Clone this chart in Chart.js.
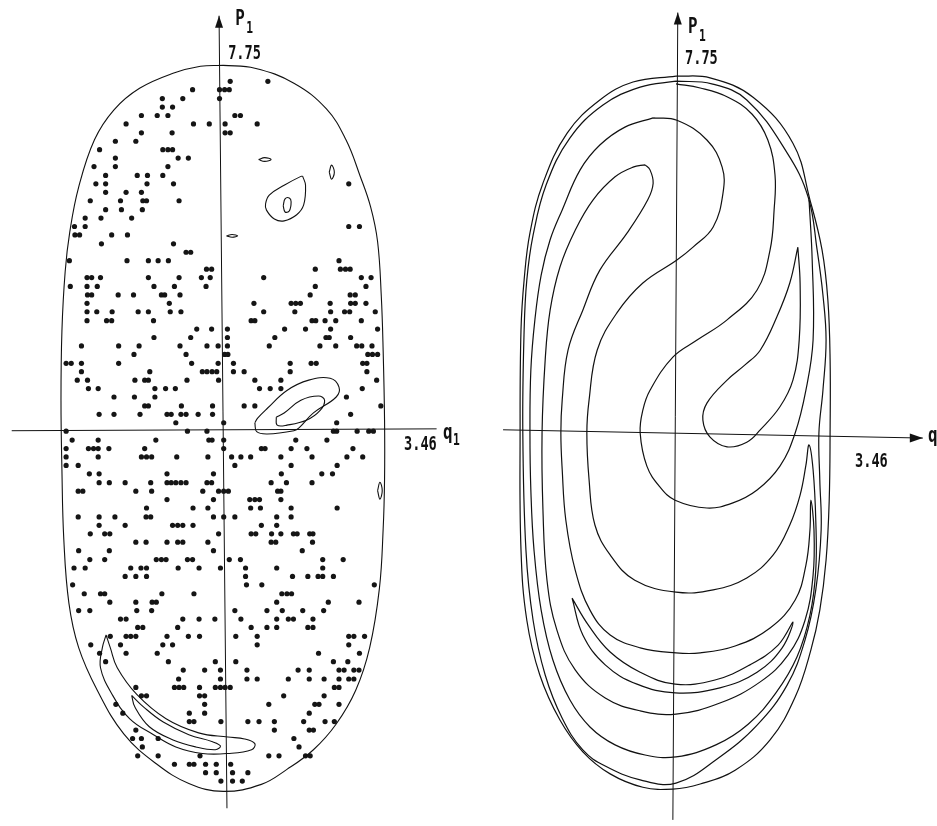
<!DOCTYPE html>
<html>
<head>
<meta charset="utf-8">
<title>Poincare sections</title>
<script src="https://cdn.jsdelivr.net/npm/chart.js@4.4.1/dist/chart.umd.min.js"></script>
<style>
  html, body { margin: 0; padding: 0; background: #fff; }
  #wrap { position: relative; width: 937px; height: 826px; overflow: hidden; }
  canvas { position: absolute; top: 0; }
  #left { left: 0; }
  #right { left: 468px; }
</style>
</head>
<body>
<div id="wrap">
  <canvas id="left" width="468" height="826"></canvas>
  <canvas id="right" width="469" height="826"></canvas>
</div>
<script>
// values printed on the axes
var qMax = 3.46;
var pMax = 7.75;
var tickLabels = ['7.75', '3.46'];

// left section: scattered points, one row of the plot per p value
var leftDotP = [7.42, 7.24, 7.05, 6.87, 6.69, 6.51, 6.32, 6.14, 5.96, 5.78, 5.60, 5.41, 5.23, 5.05, 4.87, 4.68, 4.50, 4.32, 4.14, 3.95, 3.77, 3.59, 3.41, 3.23, 3.04, 2.86, 2.68, 2.50, 2.31, 2.13, 1.95, 1.77, 1.59, 1.40, 1.22, 1.04, 0.86, 0.68, 0.49, 0.31, 0.13, -0.05, -0.24, -0.42, -0.60, -0.78, -0.96, -1.15, -1.33, -1.51, -1.69, -1.88, -2.06, -2.24, -2.42, -2.60, -2.79, -2.97, -3.15, -3.33, -3.52, -3.70, -3.88, -4.06, -4.24, -4.43, -4.61, -4.79, -4.97, -5.15, -5.34, -5.52, -5.70, -5.88, -6.07, -6.25, -6.43, -6.61, -6.79, -6.98, -7.16, -7.34, -7.52];
var leftDotQ = [
  [0.13, 0.94],
  [-0.68, -0.10, 0.01, 0.11],
  [-1.33, -0.89, -0.10],
  [-1.33, -1.11],
  [-1.78, -1.44, -1.21, 0.23, 0.35],
  [-2.11, -0.66, -0.32, 0.02, 0.71],
  [-1.78, -1.12, 0.02, 0.13],
  [-2.34, -1.90],
  [-2.68, -1.32, -1.21, -1.11],
  [-2.34, -0.99, -0.77],
  [-2.80, -2.34, -1.21],
  [-2.55, -1.87, -1.65, -1.32],
  [-2.76, -2.55, -1.66, -1.09, 2.68],
  [-2.55, -2.11, -1.78],
  [-2.88, -2.23, -1.75, -1.67, -0.97],
  [-2.55, -2.21, -1.76],
  [-2.99, -2.65, -1.99],
  [-3.22, -2.99, 2.68, 2.91],
  [-3.21, -3.11, -2.42, -2.08],
  [-2.64, -1.09],
  [-0.82, -0.72],
  [-3.33, -2.09, -1.63, -1.42, -1.20, 2.47],
  [-0.38, -0.27, 1.96, 2.50, 2.61, 2.71],
  [-2.95, -2.85, -2.66, -1.63, -0.97, -0.49, -0.30, 0.85, 2.95, 3.16],
  [-3.31, -2.95, -2.73, -1.51, -1.07, -0.39, 1.96, 3.05],
  [-2.94, -2.85, -2.28, -1.95, -1.35, -1.28, -0.95, 1.85, 2.71, 2.82],
  [-2.95, -1.18, 0.64, 1.44, 1.54, 1.64, 2.28, 2.72, 2.82, 3.05],
  [-2.95, -2.74, -2.41, -1.85, -1.63, -1.16, -0.93, 0.85, 1.52, 2.29, 2.59, 2.70, 3.25],
  [-2.95, -2.53, -2.42, -1.52, 0.58, 0.66, 1.89, 1.97, 2.17, 2.40, 2.95],
  [-0.59, -0.27, 0.07, 1.30, 1.75, 2.29, 3.30],
  [-1.51, -0.72, 0.07, 1.09, 2.19, 2.26, 2.72],
  [-3.07, -2.27, -1.83, -0.95, -0.37, -0.13, 0.07, 0.97, 2.06, 2.40, 2.85, 2.96, 3.18],
  [-1.94, -0.82, 0.01, 0.08, 3.09, 3.19, 3.30],
  [-3.40, -3.29, -3.07, -2.27, -0.70, -0.13, 0.20, 1.42, 1.87, 1.98, 2.98, 3.07],
  [-3.07, -1.60, -0.47, -0.37, -0.26, -0.16, 0.20, 0.43, 1.42, 3.07],
  [-3.16, -2.94, -1.92, -1.71, -1.63, -0.80, -0.12, 0.66, 1.22, 3.28],
  [-2.92, -2.71, -1.49, -1.26, -1.05, 0.76, 0.99, 1.22, 2.97],
  [-2.37, -1.93, -1.49, 2.63],
  [-1.71, -1.63, -0.92, -0.25, 0.43, 0.66, 3.37],
  [-2.69, -2.37, -1.81, -1.23, -1.14, -0.93, -0.82, -0.56, -0.25, 2.72],
  [-1.04, -0.01, 2.42],
  [-3.40, -0.79, -0.37, 2.35, 2.42, 2.86, 3.11, 3.21],
  [-3.27, -2.71, -1.47, -0.33, -0.26, -0.01, 1.54, 2.21],
  [-3.40, -2.92, -2.81, -2.71, -2.48, -1.71, -0.01, 0.80, 0.88, 1.44, 1.78, 2.77],
  [-3.40, -2.71, -1.78, -1.67, -1.56, -1.02, -0.35, 0.16, 0.36, 0.57, 1.22, 1.89, 2.64, 2.98],
  [-3.40, -3.14, 0.23, 1.44, 2.43],
  [-2.90, -2.69, -1.23, -0.23, 1.23, 2.10, 2.33],
  [-2.69, -2.47, -2.13, -1.58, -1.23, -1.14, -1.04, -0.93, -0.82, -0.37, -0.27, 1.01, 1.34, 1.89],
  [-3.14, -3.04, -1.90, -1.56, -0.46, -0.12, -0.01, 0.09, 1.15, 1.22],
  [-1.23, -0.23, 0.55, 0.66, 0.76, 1.22],
  [-1.67, -0.67, -0.35, 0.57, 0.78, 1.44, 2.43],
  [-3.14, -2.69, -2.35, -1.68, -1.58, -0.23, -0.01, 0.23, 1.13, 1.44],
  [-2.69, -2.13, -1.11, -1.00, -0.89, -0.67, 0.80, 1.13],
  [-2.88, -2.57, -2.46, -0.12, 0.58, 0.68, 1.02, 1.22, 1.49, 1.57, 1.84, 1.91],
  [-1.90, -1.68, -1.23, -1.00, -0.89, -0.35, 1.01, 1.11, 1.90],
  [-3.13, -2.47, -0.23, 1.68],
  [-2.89, -2.57, -1.46, -1.35, -1.25, -0.79, -0.68, 0.11, 0.35, 2.12, 2.56],
  [-3.23, -2.99, -2.01, -1.79, -1.67, -0.99, -0.54, -0.08, 0.46, 1.13, 2.12],
  [-2.13, -1.90, -1.67, 0.46, 1.47, 1.80, 2.02, 2.12, 2.35],
  [-3.26, 0.48, 0.81, 3.23],
  [-3.01, -2.66, -2.57, -1.34, -0.65, 1.24, 1.35, 1.45],
  [-2.46, -1.90, -1.55, -1.46, 1.13, 2.24, 2.90],
  [-3.13, -2.89, -1.88, -1.56, 0.23, 0.92, 1.25, 1.69, 2.14],
  [-2.23, -2.11, -0.89, -0.54, -0.20, 0.36, 1.13, 1.38, 1.49, 1.91],
  [-1.86, -1.75, -1.00, 0.58, 0.92, 1.13, 1.80, 1.91],
  [-2.45, -2.11, -2.01, -1.90, -1.23, -0.77, -0.53, 0.25, 0.71, 2.68, 2.79, 3.02],
  [-2.87, -2.23, -1.32, -1.11, 0.71, 2.68],
  [-2.68, -2.11, -1.44, 2.03, 2.91],
  [-2.55, -1.20, -0.19, 0.25, 2.35, 2.66],
  [-0.88, -0.42, -0.08, 0.49, 1.59, 1.83, 2.47, 2.58, 2.79, 2.90],
  [-0.98, -0.08, 0.49, 0.71, 1.38, 1.83, 2.15, 2.47, 2.68, 2.79],
  [-1.90, -1.07, -0.97, -0.87, -0.53, -0.19, -0.08, 0.02, 0.13, 2.37, 2.47],
  [-1.78, -1.67, -0.53, -0.42, 1.28, 2.15],
  [-2.33, -0.42, 0.96, 1.95, 2.04, 2.47],
  [-2.18, -0.75, -0.42, 1.83],
  [-0.75, -0.65, -0.07, 0.51, 0.75, 1.08, 1.71, 2.17, 2.37],
  [-1.90, 1.08, 1.83, 1.92],
  [-1.97, -1.78, -1.42, 1.50],
  [-1.76, 1.61],
  [-1.86, -1.42, -0.52, 0.96, 1.18, 1.75, 1.85],
  [-1.07, -0.75, -0.65, -0.40, -0.17, 0.14],
  [-0.40, -0.17, 0.18, 0.51],
  [-0.07, 0.18, 0.39]
];

// left section: energy boundary and the small island curves, [q, p]
var leftBoundary = [[-0.02,7.76],[0.66,7.70],[1.50,7.38],[2.20,6.83],[2.62,6.17],[2.92,5.41],[3.15,4.74],[3.30,4.00],[3.38,2.83],[3.42,1.67],[3.45,0.19],[3.45,-1.08],[3.42,-2.14],[3.34,-3.40],[3.13,-4.67],[2.83,-5.58],[2.41,-6.30],[1.92,-6.85],[1.35,-7.27],[0.80,-7.59],[-0.02,-7.74],[-0.76,-7.57],[-1.46,-7.15],[-2.16,-6.51],[-2.73,-5.58],[-3.13,-4.67],[-3.34,-3.72],[-3.45,-2.35],[-3.49,-0.87],[-3.51,0.61],[-3.49,2.09],[-3.42,3.36],[-3.32,4.21],[-3.13,5.16],[-2.79,6.17],[-2.37,6.81],[-1.82,7.27],[-1.10,7.59],[-0.51,7.74],[-0.02,7.76]];
var leftIslandTop = [[0.74,5.75],[0.87,5.79],[1.01,5.75],[0.87,5.71],[0.74,5.75]];
var leftIslandSide = [[2.26,5.48],[2.31,5.63],[2.37,5.48],[2.31,5.33],[2.26,5.48]];
var leftLoopOuter = [[1.69,5.39],[1.75,5.20],[1.71,4.78],[1.56,4.57],[1.29,4.44],[1.08,4.48],[0.91,4.67],[0.89,4.80],[0.97,4.99],[1.29,5.20],[1.65,5.39],[1.69,5.39]];
var leftLoopInner = [[1.27,4.76],[1.31,4.91],[1.40,4.93],[1.44,4.85],[1.40,4.65],[1.31,4.63],[1.27,4.76]];
var leftIslandMid = [[0.05,4.12],[0.17,4.15],[0.29,4.12],[0.17,4.09],[0.05,4.12]];
var leftLeafOuter = [[0.66,0.13],[0.72,0.23],[0.93,0.44],[1.35,0.82],[1.82,1.04],[2.28,1.08],[2.47,0.89],[2.41,0.68],[1.92,0.34],[1.61,0.02],[1.50,-0.04],[0.93,-0.11],[0.70,-0.06],[0.66,0.13]];
var leftLeafInner = [[1.12,0.25],[1.29,0.34],[1.65,0.61],[2.03,0.70],[2.16,0.61],[2.07,0.40],[1.78,0.19],[1.35,0.08],[1.14,0.08],[1.12,0.25]];
var leftIslandEdge = [[3.30,-1.32],[3.35,-1.14],[3.40,-1.32],[3.35,-1.50],[3.30,-1.32]];
var leftBananaOuter = [[-2.54,-4.40],[-2.45,-4.67],[-2.30,-5.10],[-1.88,-5.67],[-1.25,-6.19],[-0.55,-6.49],[0.08,-6.58],[0.44,-6.62],[0.66,-6.72],[0.59,-6.85],[0.08,-6.93],[-0.47,-6.93],[-1.04,-6.79],[-1.52,-6.53],[-2.03,-6.19],[-2.41,-5.67],[-2.66,-5.10],[-2.62,-4.67],[-2.54,-4.40]];
var leftBananaInner = [[-1.99,-5.69],[-1.92,-5.94],[-1.61,-6.36],[-1.10,-6.64],[-0.61,-6.79],[-0.19,-6.85],[-0.08,-6.77],[-0.25,-6.68],[-0.76,-6.53],[-1.31,-6.26],[-1.73,-5.94],[-1.99,-5.69]];

// right section: invariant curves, [q, p]
var rightOuter = [[0,7.76],[0.76,7.72],[1.72,7.30],[2.61,6.30],[2.99,5.07],[3.26,3.98],[3.39,2.89],[3.44,1.59],[3.44,0.07],[3.42,-1.46],[3.35,-2.76],[3.21,-3.85],[3.01,-4.72],[2.66,-5.74],[2.10,-6.67],[1.32,-7.33],[0.54,-7.63],[-0.07,-7.74],[-0.74,-7.70],[-1.47,-7.41],[-2.08,-6.93],[-2.59,-6.24],[-3.04,-5.26],[-3.33,-4.07],[-3.46,-2.54],[-3.48,0.07],[-3.46,2.24],[-3.39,3.33],[-3.26,4.35],[-2.97,5.43],[-2.43,6.52],[-1.70,7.24],[-0.96,7.63],[0,7.76]];
var rightSecond = [[0,7.65],[0.80,7.59],[1.58,7.24],[2.48,6.09],[2.95,5.13],[3.15,3.98],[3.28,3.00],[3.35,2.02],[3.28,0.93],[3.19,0],[3.21,-1.02],[3.24,-2.11],[3.12,-3.41],[2.88,-4.50],[2.48,-5.48],[1.81,-6.35],[0.94,-7.07],[0,-7.61],[-0.80,-7.54],[-1.58,-7.24],[-2.08,-6.89],[-2.54,-6.20],[-2.92,-5.26],[-3.19,-4.07],[-3.35,-2.54],[-3.42,0.07],[-3.39,2.24],[-3.33,3.33],[-3.19,4.30],[-2.90,5.39],[-2.37,6.41],[-1.63,7.13],[-0.80,7.52],[0,7.65]];
var rightSpiral = [[-0.51,6.85],[0.02,6.80],[0.69,6.37],[1.03,5.78],[1.05,5.22],[0.83,4.48],[0.38,4.04],[0.02,3.76],[-0.74,3.26],[-1.32,2.61],[-1.76,1.80],[-1.94,0.72],[-1.99,0],[-1.94,-1.02],[-1.81,-2.00],[-1.47,-2.65],[-0.92,-3.20],[0,-3.46],[0.83,-3.41],[1.58,-3.15],[2.17,-2.65],[2.54,-2.00],[2.77,-1.35],[2.90,-0.70],[2.97,-0.26],[3.06,-0.80],[3.12,-1.89],[3.12,-2.98],[2.99,-3.96],[2.70,-4.87],[2.23,-5.65],[1.61,-6.33],[0.89,-6.78],[0,-7.04],[-0.69,-7.00],[-1.36,-6.78],[-1.92,-6.39],[-2.37,-5.80],[-2.75,-4.93],[-3.01,-3.85],[-3.17,-2.54],[-3.24,-1.24],[-3.26,0],[-3.24,1.37],[-3.15,2.46],[-3.01,3.43],[-2.81,4.20],[-2.54,4.85],[-2.14,5.72],[-1.70,6.26],[-1.14,6.65],[-0.51,6.85]];
var rightTongue = [[-0.69,5.83],[-0.96,5.78],[-1.36,5.57],[-1.85,5.07],[-2.25,4.41],[-2.59,3.61],[-2.81,2.67],[-2.92,1.59],[-2.99,0],[-2.97,-1.67],[-2.88,-3.20],[-2.66,-4.28],[-2.25,-5.15],[-1.58,-5.76],[-0.80,-6.04],[0,-6.11],[0.98,-5.87],[1.88,-5.41],[2.50,-4.83],[2.88,-4.07],[3.06,-3.09],[3.08,-2.11],[3.01,-1.46],[2.99,-2.11],[2.90,-2.87],[2.66,-3.63],[2.10,-4.24],[1.32,-4.63],[0.54,-4.78],[0,-4.78],[-0.80,-4.67],[-1.47,-4.39],[-1.92,-3.85],[-2.25,-2.98],[-2.46,-1.89],[-2.54,-0.80],[-2.57,0],[-2.54,0.72],[-2.41,1.80],[-2.08,2.67],[-1.70,3.54],[-1.09,4.35],[-0.63,5.07],[-0.51,5.43],[-0.58,5.72],[-0.69,5.83]];
var rightTwist = [[2.97,5.07],[3.04,3.76],[3.06,2.02],[2.90,0.93],[2.66,0],[2.32,-0.72],[1.81,-1.24],[1.27,-1.52],[0.69,-1.63],[-0.02,-1.46],[-0.36,-1.17],[-0.65,-0.72],[-0.80,0],[-0.74,0.50],[-0.58,0.93],[-0.07,1.65],[0.47,2.02],[1.14,2.46],[1.81,3.11],[2.10,3.98],[2.19,4.85],[2.21,5.61],[2.05,6.37],[1.70,6.93],[1.16,7.30],[0.54,7.50],[0,7.59]];
var rightHook = [[2.72,4.04],[2.54,3.26],[2.25,2.52],[1.88,1.80],[1.54,1.48],[1.14,1.15],[0.69,0.65],[0.60,0.28],[0.76,-0.09],[1.14,-0.30],[1.58,-0.20],[1.88,0.07],[2.32,0.57],[2.61,1.15],[2.75,2.02],[2.77,3.26],[2.72,4.04]];
var rightCrescent = [[-2.32,-3.59],[-1.96,-4.17],[-1.47,-4.76],[-0.80,-5.20],[-0.02,-5.46],[0.87,-5.37],[1.65,-5.04],[2.28,-4.61],[2.61,-4.11],[2.37,-4.67],[1.81,-5.20],[0.98,-5.54],[-0.02,-5.65],[-0.87,-5.46],[-1.58,-5.04],[-2.08,-4.39],[-2.32,-3.59]];

function toXY(list) {
    return list.map(function (pt) { return { x: pt[0], y: pt[1] }; });
}

function curve(list) {
    return {
        data: toXY(list),
        showLine: true,
        borderColor: '#111',
        borderWidth: 1.2,
        pointRadius: 0,
        tension: 0.4,
        fill: false
    };
}

var leftDots = [];
leftDotP.forEach(function (p, i) {
    leftDotQ[i].forEach(function (q) { leftDots.push({ x: q, y: p }); });
});

// draws axis lines, arrow heads and the printed labels
function figurePlugin(cfg) {
    function label(ctx, text, x, y, size, sx) {
        ctx.save();
        ctx.font = 'bold ' + size + 'px "DejaVu Sans Mono"';
        ctx.translate(x, y);
        ctx.scale(sx, 1);
        ctx.fillText(text, 0, 0);
        ctx.restore();
    }
    return {
        id: 'figure' + cfg.name,
        beforeDatasetsDraw: function (chart) {
            var ctx = chart.ctx, xs = chart.scales.x, ys = chart.scales.y;
            ctx.save();
            ctx.strokeStyle = '#111';
            ctx.fillStyle = '#111';
            ctx.lineWidth = 1;
            cfg.axes.forEach(function (a) {
                ctx.beginPath();
                ctx.moveTo(xs.getPixelForValue(a[0]), ys.getPixelForValue(a[1]));
                ctx.lineTo(xs.getPixelForValue(a[2]), ys.getPixelForValue(a[3]));
                ctx.stroke();
            });
            cfg.arrows.forEach(function (a) {
                var x = xs.getPixelForValue(a.q), y = ys.getPixelForValue(a.p);
                ctx.beginPath();
                if (a.dir === 'up') {
                    ctx.moveTo(x, y); ctx.lineTo(x - 4, y + 12); ctx.lineTo(x + 4, y + 12);
                } else {
                    ctx.moveTo(x, y); ctx.lineTo(x - 13, y - 4.5); ctx.lineTo(x - 13, y + 4.5);
                }
                ctx.closePath();
                ctx.fill();
            });
            ctx.restore();
        },
        afterDatasetsDraw: function (chart) {
            var ctx = chart.ctx, xs = chart.scales.x, ys = chart.scales.y;
            ctx.save();
            ctx.fillStyle = '#111';
            ctx.textBaseline = 'alphabetic';
            var x0 = xs.getPixelForValue(0), y0 = ys.getPixelForValue(0);
            var xq = xs.getPixelForValue(qMax), yp = ys.getPixelForValue(pMax);
            // p label and top value
            label(ctx, 'P', x0 + cfg.pName[0], cfg.pName[1], 22, 0.72);
            label(ctx, '1', x0 + cfg.pName[0] + 11, cfg.pName[1] + 8, 15, 0.75);
            label(ctx, tickLabels[0], x0 + cfg.pTick[0], yp + cfg.pTick[1], 20, 0.68);
            // q value and name
            label(ctx, tickLabels[1], xq + cfg.qTick[0], y0 + cfg.qTick[1], 20, 0.68);
            label(ctx, 'q', cfg.qName[0], y0 + cfg.qName[1], 22, 0.72);
            if (cfg.qSub) label(ctx, '1', cfg.qName[0] + 10, y0 + cfg.qName[1] + 6, 15, 0.75);
            ctx.restore();
        }
    };
}

function makeChart(id, datasets, range, cfg) {
    return new Chart(document.getElementById(id).getContext('2d'), {
        type: 'scatter',
        data: { datasets: datasets },
        options: {
            responsive: false,
            animation: false,
            devicePixelRatio: 1,
            events: [],
            layout: { padding: 0 },
            plugins: { legend: { display: false }, tooltip: { enabled: false } },
            scales: {
                x: { type: 'linear', min: range[0], max: range[1], display: false },
                y: { type: 'linear', min: range[2], max: range[3], display: false }
            }
        },
        plugins: [figurePlugin(cfg)]
    });
}

var leftSets = [
    curve(leftBoundary), curve(leftIslandTop), curve(leftIslandSide),
    curve(leftLoopOuter), curve(leftLoopInner), curve(leftIslandMid),
    curve(leftLeafOuter), curve(leftLeafInner), curve(leftIslandEdge),
    curve(leftBananaOuter), curve(leftBananaInner),
    { data: leftDots, showLine: false, pointRadius: 2.6, pointBorderWidth: 0,
      backgroundColor: '#151515', borderColor: '#151515' }
];
leftSets.forEach(function (d) { if (d.showLine) d.borderWidth = 1.1; });

makeChart('left', leftSets, [-4.736, 5.159, -8.393, 9.070], {
    name: 'L',
    axes: [[-4.57, -0.04, 4.57, 0], [-0.11, 8.82, 0.06, -8.10]],
    arrows: [{ q: -0.11, p: 8.82, dir: 'up' }],
    pName: [11, 25],
    pTick: [4, -7],
    qTick: [19, 21],
    qName: [443, 10],
    qSub: true
});

var rightSets = [
    curve(rightOuter), curve(rightSecond), curve(rightSpiral), curve(rightTongue),
    curve(rightTwist), curve(rightHook), curve(rightCrescent)
];

makeChart('right', rightSets, [-4.643, 5.826, -8.543, 9.413], {
    name: 'R',
    axes: [[-3.86, 0.07, 5.51, -0.11], [0.04, 9.14, -0.07, -8.41]],
    arrows: [{ q: 0.04, p: 9.14, dir: 'up' }, { q: 5.51, p: -0.11, dir: 'right' }],
    pName: [12, 33],
    pTick: [9, -13],
    qTick: [24, 34],
    qName: [460, 9],
    qSub: false
});
</script>
</body>
</html>
